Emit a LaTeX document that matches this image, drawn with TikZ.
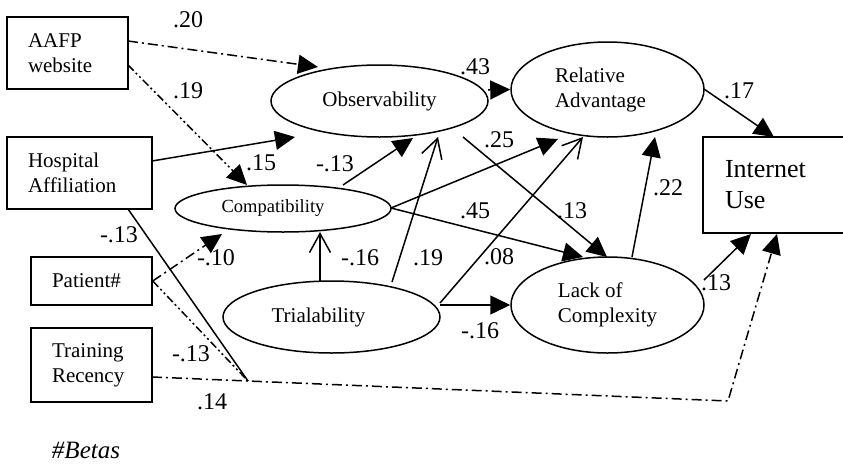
\documentclass[tikz,border=0pt]{standalone}
\usepackage{fontspec}
\setmainfont{Liberation Serif}
\usetikzlibrary{arrows.meta,calc,shapes.geometric}
\begin{document}
\begin{tikzpicture}[x=1pt,y=-1pt,
  every node/.style={font=\fontsize{21}{25}\selectfont},
  box/.style={draw,line width=1.5pt,rectangle,align=left,inner xsep=21pt,inner ysep=0pt,minimum height=#1},
  ell/.style={draw,line width=1.5pt,ellipse,inner sep=0pt},
  lab/.style={inner sep=0pt,font=\fontsize{24}{28}\selectfont},
  conn/.style={line width=1.5pt},
  tri/.style={-{Triangle[length=20pt,width=19pt]}},
  barb/.style={-{Straight Barb[length=19pt,width=21pt,line width=1.5pt]}},
  dashdot/.style={dash pattern=on 10pt off 4pt on 2pt off 4pt},
  dashdotdot/.style={dash pattern=on 8pt off 3pt on 2pt off 3pt on 2pt off 3pt},
]
\useasboundingbox (0,0) rectangle (843,464);

% boxes
\node[box=72pt,text width=79pt] (aafp) at (67.5,53) {AAFP\\website};
\node[box=72pt,text width=103pt] (hosp) at (79.5,173) {Hospital\\Affiliation};
\node[box=48pt,text width=79pt] (pat) at (91.5,281) {Patient\#};
\node[box=74pt,text width=79pt] (train) at (91.5,365) {Training\\Recency};
\node[box=96pt,text width=116pt,inner xsep=22pt,font=\fontsize{26}{31}\selectfont] (inet) at (783,185) {Internet\\Use};

% ellipses
\node[ell,minimum width=217pt,minimum height=72pt] (obs) at (379.5,101) {Observability};
\node[ell,minimum width=193pt,minimum height=95pt,align=left] (rel) at (607.5,89.5) {Relative\\Advantage\hspace*{14pt}};
\node[ell,minimum width=216pt,minimum height=47pt,font=\fontsize{18.5}{22}\selectfont] (comp) at (283,208.5) {Compatibility\hspace*{20pt}};
\node[ell,minimum width=217pt,minimum height=72pt] (trial) at (331.5,317) {Trialability\hspace*{26pt}};
\node[ell,minimum width=193pt,minimum height=96pt,align=left] (lack) at (607.5,305) {Lack of\\Complexity};

\coordinate (m) at (248,381);
\coordinate (k) at (728,401);

% connectors
\draw[conn,dashdot,tri] ($(aafp.center)+(60.5,-12)$) -- ($(obs.center)+(-61.5,-34)$);
\draw[conn,dashdotdot,tri] ($(aafp.center)+(60.5,12)$) -- ($(comp.center)+(-36,-23.5)$);
\draw[conn,tri] ($(hosp.center)+(72.5,-12)$) -- ($(obs.center)+(-84.5,36)$);
\draw[conn,tri] ($(comp.center)+(60,-23.5)$) -- ($(obs.center)+(33.5,37)$);
\draw[conn,barb] ($(trial.center)+(60.5,-35)$) -- ($(obs.center)+(58.5,36)$);
\draw[conn,barb] ($(trial.center)+(-11.5,-36)$) -- ($(comp.center)+(37,23.5)$);
\draw[conn,tri] ($(obs.center)+(83.5,36)$) -- ($(lack.center)+(-0.5,-48)$);
\draw[conn,tri] ($(comp.center)+(108,-0.5)$) -- ($(rel.center)+(-49.5,49.5)$);
\draw[conn,tri] ($(comp.center)+(108,-0.5)$) -- ($(lack.center)+(-24.5,-48)$);
\draw[conn,barb] ($(trial.center)+(108.5,-14)$) -- ($(rel.center)+(-24.5,47.5)$);
\draw[conn,tri] ($(trial.center)+(108.5,-12)$) -- (lack.west);
\draw[conn,tri] ($(lack.center)+(24.5,-48)$) -- ($(rel.center)+(47.5,47.5)$);
\draw[conn,tri] ($(obs.center)+(108.5,-11)$) -- (rel.west);
\draw[conn,tri] ($(rel.center)+(96.5,-0.5)$) -- ($(inet.center)+(-9,-48)$);
\draw[conn,tri] ($(lack.center)+(96.5,-25)$) -- ($(inet.center)+(-32,49)$);
\draw[conn,dashdot,tri] (pat.east) -- ($(comp.center)+(-61,25.5)$);
\draw[conn,dashdotdot] (pat.east) -- (m);
\draw[conn] ($(hosp.center)+(48.5,36)$) -- (m);
\draw[conn,dashdot,tri] ($(train.center)+(60.5,12)$) -- (m) -- (k) -- ($(inet.center)+(-6,49)$);

% labels
\node[lab] (l20) at (188,20) {.20};
\node[lab] (l19a) at (188,91) {.19};
\node[lab] (l15) at (261,163) {.15};
\node[lab] (l13a) at (335,164) {-.13};
\node[lab] (l43) at (475,67) {.43};
\node[lab] (l25) at (499,140) {.25};
\node[lab] (l17) at (739,91) {.17};
\node[lab] (l22) at (668,188) {.22};
\node[lab] (l45) at (475,211) {.45};
\node[lab] (l13b) at (572,211) {.13};
\node[lab] (l16a) at (360,258) {-.16};
\node[lab] (l19b) at (428,258) {.19};
\node[lab] (l08) at (499,257) {.08};
\node[lab] (l16b) at (480,331) {-.16};
\node[lab] (l13c) at (716,283) {.13};
\node[lab] (l13d) at (119,235) {-.13};
\node[lab] (l10) at (216,258) {-.10};
\node[lab] (l13e) at (191,354) {-.13};
\node[lab] (l14) at (212,402) {.14};
\node[lab,font=\fontsize{25}{30}\selectfont] (betas) at (86,450) {\textit{\#Betas}};
\end{tikzpicture}
\end{document}
